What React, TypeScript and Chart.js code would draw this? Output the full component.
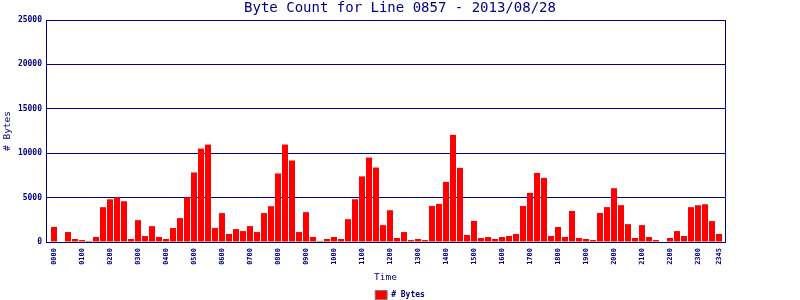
import { useEffect, useRef } from 'react';
import { Chart, registerables } from 'chart.js';

Chart.register(...registerables);

const TITLE = 'Byte Count for Line 0857 - 2013/08/28';
const SERIES_LABEL = '# Bytes';
const X_TITLE = 'Time';
const Y_TITLE = '# Bytes';

// 15-minute time slots 0000 .. 2345
const times: string[] = [];
for (let h = 0; h < 24; h++) {
  for (let m = 0; m < 60; m += 15) {
    times.push(String(h).padStart(2, '0') + String(m).padStart(2, '0'));
  }
}

const bytes = [
  1700, 0, 1120, 340, 220, 110, 560, 3920, 4810, 5040, 4590, 340,
  2460, 670, 1790, 560, 340, 1570, 2690, 5040, 7830, 10520, 10970, 1570,
  3250, 900, 1460, 1230, 1790, 1120, 3250, 4030, 7720, 10970, 9180, 1120,
  3360, 560, 110, 340, 560, 340, 2570, 4810, 7390, 9510, 8390, 1900,
  3580, 450, 1120, 220, 340, 220, 4060, 4290, 6770, 12070, 8350, 790,
  2370, 450, 560, 340, 560, 680, 900, 4060, 5530, 7780, 7220, 680,
  1690, 560, 3500, 450, 340, 220, 3260, 3930, 6060, 4150, 2010, 450,
  1900, 560, 220, 0, 450, 1230, 670, 3920, 4140, 4250, 2350, 900,
];

const labeledSlots = [0, 4, 8, 12, 16, 20, 24, 28, 32, 36, 40, 44, 48, 52, 56, 60, 64, 68, 72, 76, 80, 84, 88, 92, 95];

const Y_MIN = 0;
const Y_MAX = 25000;
const Y_STEP = 5000;

const NAVY = '#000080';
const RED = '#ff0000';
const MONO = 'DejaVu Sans Mono';

export default function App() {
  const ref = useRef<HTMLCanvasElement | null>(null);

  useEffect(() => {
    document.body.style.margin = '0';
    const canvas = ref.current;
    if (!canvas) return;
    const chart = new Chart(canvas, {
      type: 'bar',
      data: {
        datasets: [
          {
            label: SERIES_LABEL,
            data: bytes.map((v, i) => ({ x: i, y: v })),
            backgroundColor: RED,
            borderWidth: 0,
            barPercentage: 6 / 7,
            categoryPercentage: 1,
            yAxisID: 'y',
          },
        ],
      },
      options: {
        responsive: false,
        animation: false,
        layout: { padding: { top: 0, left: 0, right: 0, bottom: -9.5 } },
        plugins: {
          title: {
            display: true,
            text: TITLE,
            color: NAVY,
            font: { family: MONO, size: 14, weight: 'normal', lineHeight: '16px' },
            padding: { top: 0, bottom: 4 },
          },
          legend: {
            display: true,
            position: 'bottom',
            labels: {
              boxWidth: 12,
              boxHeight: 9,
              padding: 4,
              color: NAVY,
              font: { family: MONO, size: 8, weight: 'bold' },
              generateLabels: (c: any) =>
                c.data.datasets.map((ds: any, i: number) => ({
                  text: ds.label,
                  fillStyle: RED,
                  strokeStyle: '#808080',
                  lineWidth: 1,
                  hidden: false,
                  datasetIndex: i,
                  fontColor: NAVY,
                })),
            },
          },
          tooltip: { enabled: false },
        },
        scales: {
          x: {
            type: 'linear',
            position: 'bottom',
            offset: false,
            min: -8 / 7,
            max: 95 + 6 / 7,
            bounds: 'data',
            grid: { display: false, drawTicks: false, offset: false },
            border: { display: true, color: NAVY, width: 1 },
            afterBuildTicks: (scale: any) => {
              scale.ticks = labeledSlots.map((v) => ({ value: v }));
            },
            afterFit: (scale: any) => {
              scale.height = 44.5;
            },
            ticks: {
              autoSkip: false,
              minRotation: 90,
              maxRotation: 90,
              padding: 6,
              color: NAVY,
              font: { family: MONO, size: 7, weight: 'bold' },
              callback: (v: any) => times[v as number] ?? '',
            },
            title: {
              display: true,
              text: X_TITLE,
              color: NAVY,
              font: { family: MONO, size: 9.5, weight: 'normal', lineHeight: 1.2 },
              padding: { top: 0, bottom: 3 },
            },
          },
          y: {
            type: 'linear',
            position: 'left',
            min: Y_MIN,
            max: Y_MAX,
            grid: { color: NAVY, lineWidth: 1, drawTicks: false },
            border: { display: true, color: NAVY, width: 1 },
            afterFit: (scale: any) => {
              scale.width = 46;
            },
            ticks: {
              stepSize: Y_STEP,
              padding: 4,
              color: NAVY,
              font: { family: MONO, size: 8, weight: 'bold' },
              callback: (v: any) => String(v),
            },
            title: {
              display: true,
              text: Y_TITLE,
              color: NAVY,
              font: { family: MONO, size: 9.5, weight: 'normal', lineHeight: 1.2 },
              padding: { top: 2, bottom: 0 },
            },
          },
          y2: {
            type: 'linear',
            position: 'right',
            display: true,
            grid: { display: false, drawTicks: false },
            border: { display: true, color: NAVY, width: 1 },
            ticks: { display: false },
            afterFit: (scale: any) => {
              scale.width = 75;
            },
          },
        },
      } as any,
    });
    return () => chart.destroy();
  }, []);

  return (
    <div style={{ width: 800, height: 300 }}>
      <canvas ref={ref} width={800} height={300} style={{ display: 'block' }} />
    </div>
  );
}
